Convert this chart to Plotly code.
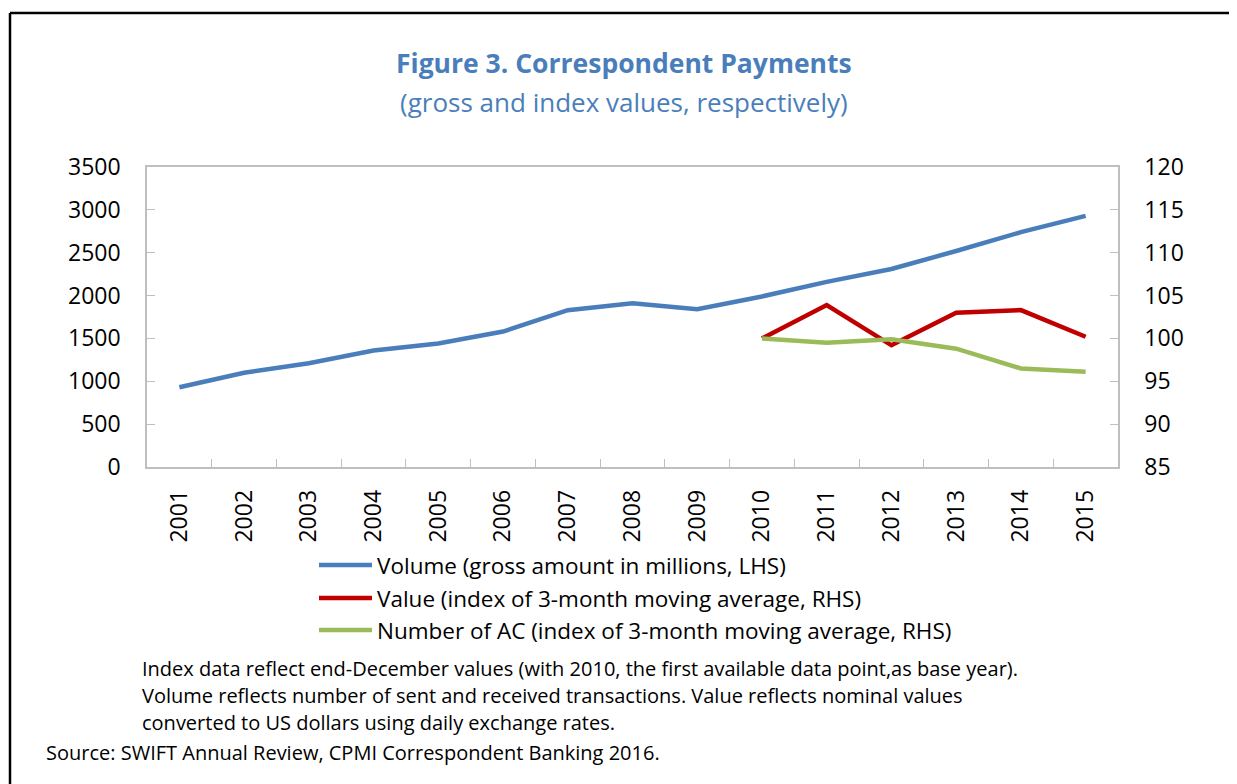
import plotly.graph_objects as go

# data
years = [str(y) for y in range(2001, 2016)]
volume = [930, 1100, 1210, 1360, 1440, 1580, 1830, 1910, 1840,
          1990, 2160, 2310, 2520, 2740, 2930]
index_years = [str(y) for y in range(2010, 2016)]
value_index = [100.0, 103.9, 99.2, 103.0, 103.3, 100.2]
ac_index = [100.0, 99.5, 99.9, 98.8, 96.5, 96.1]

legend_names = [
    "Volume (gross amount in millions, LHS)",
    "Value (index of 3-month moving average, RHS)",
    "Number of AC (index of 3-month moving average, RHS)",
]
notes = [
    "Index data reflect end-December values (with 2010, the first available data point,as base year).",
    "Volume reflects number of sent and received transactions. Value reflects nominal values",
    "converted to US dollars using daily exchange rates.",
]
source = "Source: SWIFT Annual Review, CPMI Correspondent Banking 2016."

BLUE = "#4A7EBB"
RED = "#C00000"
GREEN = "#9BBB59"
AXIS = "#BFBFBF"
FONT = "Open Sans"

# the page body adds an 8px margin, so work in screen pixels minus 8
OFF = 8
W, H = 1237 - OFF, 784 - OFF
L, R, T, B = 147 - OFF, 1118 - OFF, 167 - OFF, 467 - OFF


def px_x(p):
    """screen x pixel -> paper coordinate"""
    return (p - OFF - L) / (R - L)


def px_y(p):
    """screen y pixel -> paper coordinate"""
    return (B - (p - OFF)) / (B - T)


def note(text, x, y, size, **kw):
    fig.add_annotation(x=px_x(x), y=px_y(y), xref="paper", yref="paper",
                       text=text, showarrow=False, yanchor="middle",
                       font=dict(size=size, **kw.pop("font", {})), **kw)


fig = go.Figure()
fig.add_trace(go.Scatter(x=years, y=volume, mode="lines", name=legend_names[0],
                         line=dict(color=BLUE, width=4.5)))
fig.add_trace(go.Scatter(x=index_years, y=value_index, mode="lines", name=legend_names[1],
                         line=dict(color=RED, width=4.5), yaxis="y2"))
fig.add_trace(go.Scatter(x=index_years, y=ac_index, mode="lines", name=legend_names[2],
                         line=dict(color=GREEN, width=4.5), yaxis="y2"))

tick_font = dict(size=23)
fig.update_layout(
    width=W, height=H,
    margin=dict(l=L, r=W - R, t=T, b=H - B),
    paper_bgcolor="white", plot_bgcolor="white",
    showlegend=False,
    font=dict(family=FONT, color="black", size=20),
    xaxis=dict(type="category", categoryorder="array", categoryarray=years,
               range=[-0.5, len(years) - 0.5],
               showline=True, linecolor=AXIS, linewidth=1.5, mirror=True,
               ticks="inside", tickson="boundaries", ticklen=8, tickcolor=AXIS,
               tickangle=-90, tickfont=tick_font, showgrid=False,
               ticklabelstandoff=12),
    yaxis=dict(range=[0, 3500], dtick=500, showline=True, linecolor=AXIS,
               linewidth=1.5, ticks="inside", ticklen=8, tickcolor=AXIS,
               tickfont=tick_font, showgrid=False, zeroline=False,
               ticklabelstandoff=20),
    yaxis2=dict(range=[85, 120], dtick=5, overlaying="y", side="right",
                showline=True, linecolor=AXIS, linewidth=1.5, ticks="inside",
                ticklen=8, tickcolor=AXIS, tickfont=tick_font,
                showgrid=False, zeroline=False, ticklabelstandoff=20),
)

# titles
note("<b>Figure 3. Correspondent Payments</b>", 624, 63, 26.5,
     xanchor="center", font=dict(color=BLUE))
note("(gross and index values, respectively)", 624, 102, 26,
     xanchor="center", font=dict(color=BLUE))

# legend drawn by hand to get the long line samples
for name, color, row_y in zip(legend_names, [BLUE, RED, GREEN], [565, 598, 630]):
    fig.add_shape(type="line", xref="paper", yref="paper",
                  x0=px_x(319), x1=px_x(372), y0=px_y(row_y), y1=px_y(row_y),
                  line=dict(color=color, width=4.5))
    note(name, 375, row_y, 22.5, xanchor="left")

# notes
for line, row_y in zip(notes, [668, 695, 722]):
    note(line, 140, row_y, 20, xanchor="left")
note(source, 44, 752, 20, xanchor="left")

# frame: top and left edges only
fig.add_shape(type="line", xref="paper", yref="paper",
              x0=px_x(10), x1=px_x(1240), y0=px_y(13), y1=px_y(13),
              line=dict(color="black", width=2.5))
fig.add_shape(type="line", xref="paper", yref="paper",
              x0=px_x(10), x1=px_x(10), y0=px_y(13), y1=px_y(800),
              line=dict(color="black", width=2.5))

fig.write_html("out.html")
